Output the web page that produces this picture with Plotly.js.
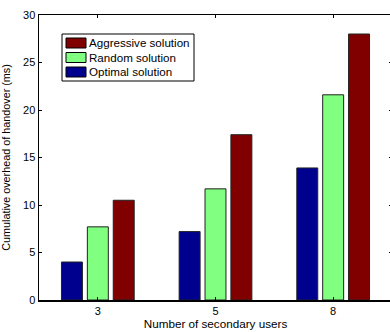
<!DOCTYPE html>
<html><head><meta charset="utf-8">
<script src="https://cdn.plot.ly/plotly-3.0.1.min.js"></script>
<style>html,body{margin:0;padding:0;background:#fff;overflow:hidden}#c{width:392px;height:332px}</style>
</head><body><div id="c"></div>
<script>
const categories = ['3', '5', '8'];
const seriesNames = ['Optimal solution', 'Random solution', 'Aggressive solution'];
const optimal = [4.0, 7.2, 13.9];
const random = [7.7, 11.7, 21.6];
const aggressive = [10.5, 17.4, 28.0];
const colors = ['#00008f', '#80ff80', '#800000'];
const yTicks = [0, 5, 10, 15, 20, 25, 30];

const W = 392, H = 332, L = 39, R = 0, T = 15, B = 32;
const pw = W - L - R, ph = H - T - B;
const px = v => (v - L) / pw;
const py = v => (H - B - v) / ph;

const line = {color: '#222', width: 1};
const values = [optimal, random, aggressive];
const traces = values.map((v, i) => ({type: 'bar', name: seriesNames[i], x: categories, y: v,
  marker: {color: colors[i], line: line}}));

// legend (drawn as box + swatches + labels, reversed order)
const shapes = [{type: 'rect', xref: 'paper', yref: 'paper', x0: px(62), x1: px(194), y0: py(81), y1: py(34),
  line: {color: '#000', width: 1}, fillcolor: '#fff', layer: 'above'}];
const annotations = [];
const order = [2, 1, 0];
order.forEach((si, row) => {
  const cy = 43 + row * 14.5;
  shapes.push({type: 'rect', xref: 'paper', yref: 'paper', x0: px(66), x1: px(86), y0: py(cy + 5), y1: py(cy - 5),
    line: {color: '#000', width: 1}, fillcolor: colors[si], layer: 'above'});
  annotations.push({xref: 'paper', yref: 'paper', x: px(87), y: py(cy), xanchor: 'left', yanchor: 'middle',
    text: seriesNames[si], showarrow: false, font: {size: 11.6, color: '#000'}});
});

const font = {family: 'Liberation Sans, Arial, sans-serif', size: 11, color: '#000'};
const layout = {
  width: W, height: H,
  margin: {l: L, r: R, t: T, b: B},
  paper_bgcolor: '#fff', plot_bgcolor: '#fff',
  font: font,
  barmode: 'group', bargap: 0.34, bargroupgap: 0.19,
  showlegend: false,
  shapes: shapes, annotations: annotations,
  xaxis: {type: 'category', range: [-0.5, 2.5], showline: true, linecolor: '#000', linewidth: 1.5,
    mirror: 'ticks', ticks: 'inside', ticklen: 3, tickcolor: '#000', showgrid: false, zeroline: false,
    tickfont: {size: 11},
    title: {text: 'Number of secondary users', font: {size: 11.7}, standoff: 2}},
  yaxis: {range: [0, 30], tickvals: yTicks, showline: true, linecolor: '#000', linewidth: 1.5,
    mirror: 'ticks', ticks: 'inside', ticklen: 3, tickcolor: '#000', showgrid: false, zeroline: false,
    tickfont: {size: 11},
    title: {text: 'Cumulative overhead of handover (ms)', font: {size: 10.8}, standoff: 10}}
};
Plotly.newPlot('c', traces, layout, {displayModeBar: false, staticPlot: true});
</script></body></html>
